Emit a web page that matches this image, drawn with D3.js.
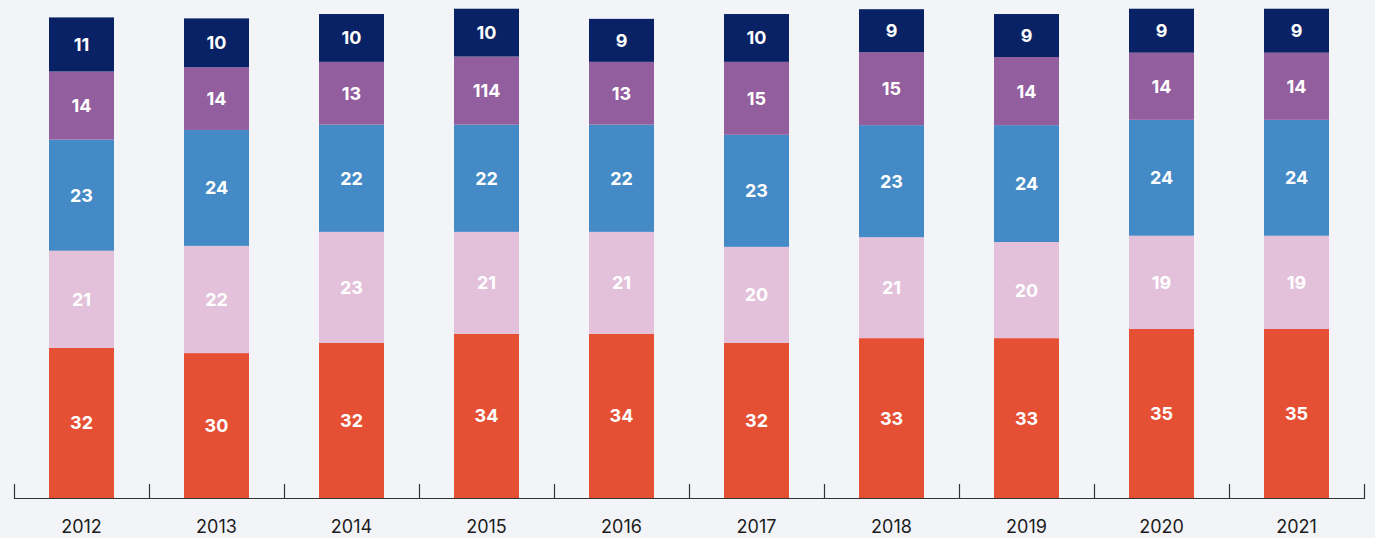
<!DOCTYPE html>
<html><head><meta charset="utf-8">
<script src="https://cdn.jsdelivr.net/npm/d3@7"></script>
<style>
html,body{margin:0;padding:0;background:#F3F4F8;}
svg{display:block;}
</style></head>
<body>
<svg id="chart" width="1375" height="538"></svg>
<script>
const years = ["2012","2013","2014","2015","2016","2017","2018","2019","2020","2021"];
const seriesKeys = ["s1","s2","s3","s4","s5"]; // bottom to top
// values
const s1Values = [31.1,30.0,32.1,34.0,34.0,32.1,33.1,33.1,35.0,35.0];
const s2Values = [20.1,22.2,23.0,21.1,21.1,19.9,20.9,19.9,19.3,19.3];
const s3Values = [23.0,24.0,22.2,22.2,22.2,23.2,23.2,24.2,24.0,24.0];
const s4Values = [14.1,13.0,13.0,14.1,13.0,15.1,15.1,14.1,13.9,13.9];
const s5Values = [11.2,10.1,9.9,9.9,8.9,9.9,8.9,8.9,9.1,9.1];
// labels as printed in the chart
const s1Labels = ["32","30","32","34","34","32","33","33","35","35"];
const s2Labels = ["21","22","23","21","21","20","21","20","19","19"];
const s3Labels = ["23","24","22","22","22","23","23","24","24","24"];
const s4Labels = ["14","14","13","114","13","15","15","14","14","14"];
const s5Labels = ["11","10","10","10","9","10","9","9","9","9"];
const colors = ["#E55035","#E3C1DB","#448AC6","#935E9E","#082265"];

const valuesBy = {s1:s1Values,s2:s2Values,s3:s3Values,s4:s4Values,s5:s5Values};
const labelsBy = {s1:s1Labels,s2:s2Labels,s3:s3Labels,s4:s4Labels,s5:s5Labels};
const table = years.map((y,i)=>{const o={year:y,i};seriesKeys.forEach(k=>o[k]=valuesBy[k][i]);return o;});

const svg = d3.select("#chart");
const x = d3.scaleBand().domain(years).range([14,1364]).paddingInner(0.5185).paddingOuter(0.5185/2);
const y = d3.scaleLinear().domain([0,100]).range([498,15]);
const stack = d3.stack().keys(seriesKeys)(table);

const font = "Inter, 'Noto Sans', 'DejaVu Sans', sans-serif";
const g = svg.append("g");
stack.forEach((layer,li)=>{
  const lg = g.append("g");
  lg.selectAll("rect").data(layer).enter().append("rect")
    .attr("x",d=>x(d.data.year))
    .attr("width",x.bandwidth())
    .attr("y",d=>y(d[1]))
    .attr("height",d=>y(d[0])-y(d[1]))
    .attr("fill",colors[li]);
  lg.selectAll("text").data(layer).enter().append("text")
    .attr("x",d=>x(d.data.year)+x.bandwidth()/2)
    .attr("y",d=>(y(d[0])+y(d[1]))/2)
    .attr("dy","0.36em")
    .attr("text-anchor","middle")
    .attr("fill","#ffffff")
    .attr("font-family",font)
    .attr("font-weight",700)
    .attr("font-size","18px")
    .text(d=>labelsBy[layer.key][d.data.i]);
});

// axis
const step = x.step();
const off = step*x.paddingInner()/2;
const ax = svg.append("g");
ax.append("line").attr("x1",14).attr("x2",1364).attr("y1",498.5).attr("y2",498.5)
  .attr("stroke","#333").attr("stroke-width",1.2);
const tickXs = years.map(d=>x(d)-off).concat([x(years[years.length-1])+x.bandwidth()+off]);
ax.selectAll("line.tick").data(tickXs).enter().append("line").attr("class","tick")
  .attr("x1",d=>Math.round(d)+0.5).attr("x2",d=>Math.round(d)+0.5)
  .attr("y1",484).attr("y2",499).attr("stroke","#333").attr("stroke-width",1.2);
ax.selectAll("text").data(years).enter().append("text")
  .attr("x",d=>x(d)+x.bandwidth()/2)
  .attr("y",533)
  .attr("text-anchor","middle")
  .attr("fill","#1c1c1c")
  .attr("font-family",font)
  .attr("font-size","18px")
  .text(d=>d);
</script>
</body></html>
